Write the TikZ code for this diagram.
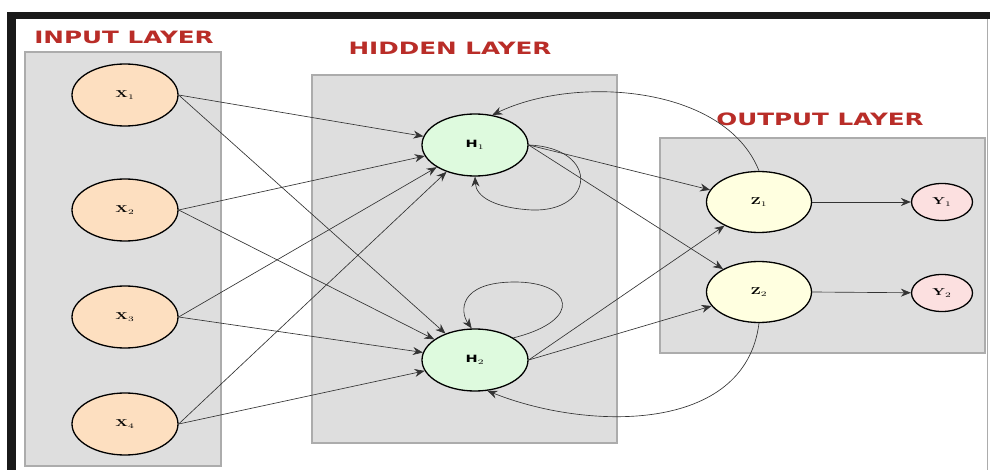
\documentclass[tikz,border=0pt]{standalone}
\usepackage{fontspec}
\newfontfamily\layerfont{DejaVu Sans}
\usetikzlibrary{shapes.geometric,arrows.meta}

\definecolor{layerred}{RGB}{185,45,40}
\definecolor{boxgray}{RGB}{222,222,222}
\definecolor{boxedge}{RGB}{172,172,172}
\definecolor{inpeach}{RGB}{253,223,192}
\definecolor{hidgreen}{RGB}{222,250,222}
\definecolor{outyellow}{RGB}{255,255,224}
\definecolor{ypink}{RGB}{252,224,224}

\newcommand\stretchx[1]{\scalebox{1.45}[1]{#1}}

\begin{document}
\begin{tikzpicture}
[x=1pt,y=-1pt,
 every node/.style={ellipse,draw=black,line width=1.3pt,inner sep=0pt,
   font=\bfseries\fontsize{10}{10}\selectfont},
 unit/.style={minimum width=106pt,minimum height=62pt},
 small unit/.style={minimum width=61pt,minimum height=37pt},
 layer/.style={fill=boxgray,draw=boxedge,line width=1.5pt},
 title/.style={rectangle,draw=none,text=layerred,
   font=\layerfont\bfseries\fontsize{17}{17}\selectfont},
 link/.style={draw=black!80,line width=0.65pt,-{Stealth[length=10pt,width=8pt]}}]
\useasboundingbox (0,0) rectangle (990,470);
\fill[white] (0,0) rectangle (990,470);

% frame
\fill[black!90] (7,12) rectangle (990,19);
\fill[black!90] (7,12) rectangle (16,470);
\draw[boxedge,line width=0.8pt] (987,19) -- (987,470);

% layer boxes
\draw[layer] (25,52) rectangle (221,466);
\draw[layer] (312,75) rectangle (617,443);
\draw[layer] (660,138) rectangle (985,353);

\node[title] (tin) at (124,37) {\stretchx{INPUT LAYER}};
\node[title] (thid) at (450,48) {\stretchx{HIDDEN LAYER}};
\node[title] (tout) at (820,119) {\stretchx{OUTPUT LAYER}};

% units
\node[unit,fill=inpeach] (x1) at (125,95) {\stretchx{X$_1$}};
\node[unit,fill=inpeach] (x2) at (125,210) {\stretchx{X$_2$}};
\node[unit,fill=inpeach] (x3) at (125,317) {\stretchx{X$_3$}};
\node[unit,fill=inpeach] (x4) at (125,424) {\stretchx{X$_4$}};
\node[unit,fill=hidgreen] (h1) at (475,145) {\stretchx{\layerfont H$_1$}};
\node[unit,fill=hidgreen] (h2) at (475,360) {\stretchx{\layerfont H$_2$}};
\node[unit,fill=outyellow,minimum width=105pt,minimum height=61pt] (z1) at (759,202) {\stretchx{Z$_1$}};
\node[unit,fill=outyellow,minimum width=105pt,minimum height=61pt] (z2) at (759,292) {\stretchx{Z$_2$}};
\node[small unit,fill=ypink] (y1) at (942,202) {\stretchx{Y$_1$}};
\node[small unit,fill=ypink] (y2) at (942,293) {\stretchx{Y$_2$}};

\foreach \from/\to in {x1/h1,x1/h2,x2/h1,x2/h2,x3/h1,x3/h2,x4/h1,x4/h2,h1/z1,h1/z2,h2/z1,h2/z2,z1/y1,z2/y2}
\draw[link] (\from.east) -- (\to);

% self loops
\draw[link] (h1.east) .. controls (600,148) and (595,212) .. (532,210)
  .. controls (495,208) and (476,197) .. (h1.south);
\draw[link] (h2.30) .. controls (585,320) and (572,282) .. (515,282)
  .. controls (458,282) and (460,312) .. (h2.96);

% feedback from the output units
\draw[link] (z1.north) .. controls (725,85) and (575,75) .. (h1.60);
\draw[link] (z2.south) .. controls (745,435) and (585,430) .. (h2.-68);
\end{tikzpicture}
\end{document}
